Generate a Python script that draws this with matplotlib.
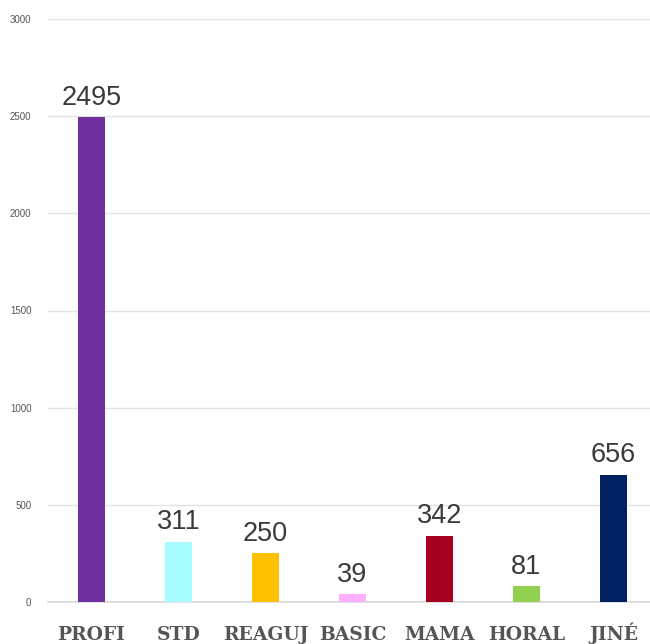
import matplotlib.pyplot as plt

categories = ["PROFI", "STD", "REAGUJ", "BASIC", "MAMA", "HORAL", "JINÉ"]
values = [2495, 311, 250, 39, 342, 81, 656]
colors = ["#7030A0", "#A6FCFF", "#FFC000", "#FFB0FF", "#A50021", "#92D050", "#002060"]
yticks = [0, 500, 1000, 1500, 2000, 2500, 3000]

fig = plt.figure(figsize=(6.5, 6.44), dpi=100)
ax = fig.add_axes([48 / 650, 42 / 644, 602 / 650, 583 / 644])

x = range(len(categories))
bars = ax.bar(x, values, width=0.32, color=colors, zorder=3)

for xi, v in zip(x, values):
    ax.annotate(str(v), (xi, v), xytext=(0, 4.5), textcoords="offset points",
                ha="center", va="bottom", fontsize=19.5,
                family="Liberation Sans", color="#3a3a3a")

ax.set_ylim(0, 3000)
ax.set_xlim(-0.5, -0.5 + 602 / 87)
ax.set_yticks(yticks)
ax.set_yticklabels([str(t) for t in yticks], fontsize=7, color="#555555",
                   family="Liberation Sans")
ax.set_xticks(list(x))
ax.set_xticklabels(categories, fontsize=13.5, family="DejaVu Serif",
                   weight="bold", color="#555555")
for lab in ax.get_xticklabels():
    lab.set_va("baseline")
ax.tick_params(axis="y", length=0, pad=12)
ax.tick_params(axis="x", length=0, pad=27)

ax.grid(axis="y", color="#e3e3e3", linewidth=1, zorder=0)
for s in ["top", "right", "left"]:
    ax.spines[s].set_visible(False)
ax.spines["bottom"].set_color("#d9d9d9")
ax.spines["bottom"].set_linewidth(1.2)

fig.savefig("out.png", dpi=100)
